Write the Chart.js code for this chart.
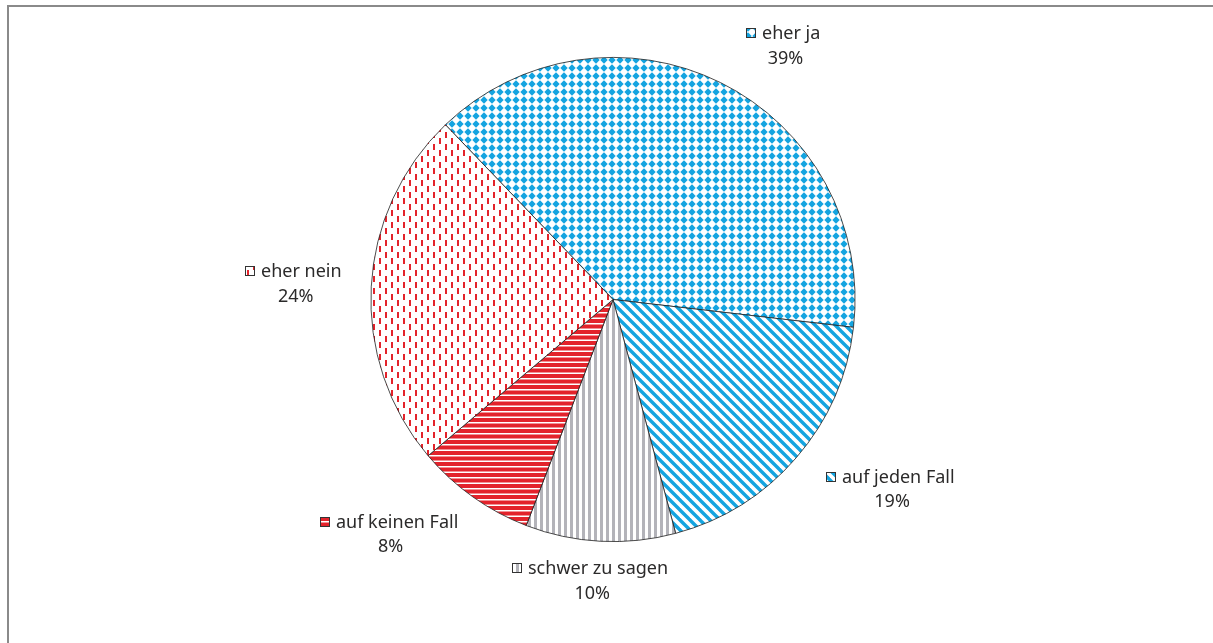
<!DOCTYPE html>
<html>
<head>
<meta charset="utf-8">
<title>Umfrage</title>
<script src="https://cdn.jsdelivr.net/npm/chart.js@4.4.1/dist/chart.umd.min.js"></script>
<style>
  html, body { margin: 0; padding: 0; background: #ffffff; }
  #wrap { width: 1213px; height: 643px; position: relative; }
</style>
</head>
<body>
<div id="wrap"><canvas id="c" width="1213" height="643"></canvas></div>
<script>
// Answer categories, in drawing order (clockwise)
const categories = ['eher ja', 'auf jeden Fall', 'schwer zu sagen', 'auf keinen Fall', 'eher nein'];
// Share of answers, percent
const shares = [39, 19, 10, 8, 24];

// Hatch fills for each slice
function makeTile(w, h, paint) {
  const c = document.createElement('canvas');
  c.width = w; c.height = h;
  const g = c.getContext('2d');
  g.fillStyle = '#ffffff';
  g.fillRect(0, 0, w, h);
  paint(g, w, h);
  return document.createElement('canvas').getContext('2d').createPattern(c, 'repeat');
}

const BLUE = '#14a4e0';
const RED = '#e3232b';
const GREY = '#b3b3b9';

const diamondFill = makeTile(8, 8, (g) => {
  g.fillStyle = BLUE;
  g.beginPath();
  g.moveTo(4, 0.3); g.lineTo(7.7, 4); g.lineTo(4, 7.7); g.lineTo(0.3, 4);
  g.closePath(); g.fill();
});

const diagonalFill = makeTile(10, 10, (g) => {
  g.strokeStyle = BLUE;
  g.lineWidth = 3.4;
  for (const k of [-10, 0, 10]) {
    g.beginPath();
    g.moveTo(k - 2, -2);
    g.lineTo(k + 12, 12);
    g.stroke();
  }
});

const verticalFill = makeTile(6, 6, (g) => {
  g.fillStyle = GREY;
  g.fillRect(0, 0, 3, 6);
});

const horizontalFill = makeTile(11, 11, (g) => {
  g.fillStyle = RED;
  g.fillRect(0, 0, 11, 4);
  g.fillRect(0, 5.5, 11, 4);
});

const dashFill = makeTile(12, 12, (g) => {
  g.fillStyle = RED;
  g.fillRect(1, 0, 2, 6);
  g.fillRect(7, 6, 2, 6);
});

const fills = [diamondFill, diagonalFill, verticalFill, horizontalFill, dashFill];

// Label block offsets (pixels) from the point at 1.25 × radius on each slice's middle angle
const labelNudge = [[36, 17], [48, -8], [-7, -21], [-49, -12], [-17, 0]];

const FONT = '18px "Noto Sans", "DejaVu Sans", sans-serif';
const TEXT = '#2b2a2a';

// Frame lines along the top and left edge of the figure
const framePlugin = {
  id: 'frame',
  beforeDraw(chart) {
    const ctx = chart.ctx;
    ctx.save();
    ctx.strokeStyle = '#8a8a8a';
    ctx.lineWidth = 2;
    ctx.beginPath();
    ctx.moveTo(8, chart.height);
    ctx.lineTo(8, 6);
    ctx.lineTo(chart.width, 6);
    ctx.stroke();
    ctx.restore();
  }
};

// Category name with a small swatch, and the percentage beneath it
const sliceLabels = {
  id: 'sliceLabels',
  afterDatasetsDraw(chart) {
    const ctx = chart.ctx;
    const meta = chart.getDatasetMeta(0);
    const data = chart.data.datasets[0].data;
    ctx.save();
    ctx.font = FONT;
    ctx.fillStyle = TEXT;
    ctx.textBaseline = 'middle';
    meta.data.forEach((arc, i) => {
      const p = arc.getProps(['x', 'y', 'startAngle', 'endAngle', 'outerRadius'], true);
      const mid = (p.startAngle + p.endAngle) / 2;
      const d = p.outerRadius * 1.25;
      const cx = p.x + Math.cos(mid) * d + labelNudge[i][0];
      const cy = p.y + Math.sin(mid) * d + labelNudge[i][1];
      const name = chart.data.labels[i];
      const box = 10, gap = 6;
      const tw = ctx.measureText(name).width;
      const total = box + gap + tw;
      const x0 = Math.round(cx - total / 2);
      const y1 = cy - 12.5;
      const by = Math.round(y1 - box / 2);
      // swatch
      ctx.fillStyle = fills[i];
      ctx.fillRect(x0, by, box, box);
      ctx.strokeStyle = '#333333';
      ctx.lineWidth = 1;
      ctx.strokeRect(x0 + 0.5, by + 0.5, box - 1, box - 1);
      ctx.fillStyle = TEXT;
      ctx.textAlign = 'left';
      ctx.fillText(name, x0 + box + gap, y1 + 1);
      ctx.textAlign = 'center';
      ctx.fillText(data[i] + '%', cx + 2, cy + 13);
    });
    ctx.restore();
  }
};

new Chart(document.getElementById('c'), {
  type: 'pie',
  data: {
    labels: categories,
    datasets: [{
      data: shares,
      backgroundColor: fills,
      borderColor: '#1e1e1e',
      borderWidth: 0.8,
      borderAlign: 'center'
    }]
  },
  options: {
    responsive: false,
    animation: false,
    rotation: -43.8,
    layout: { padding: { top: 57, bottom: 101, left: 132, right: 119 } },
    plugins: {
      legend: { display: false },
      tooltip: { enabled: false }
    }
  },
  plugins: [framePlugin, sliceLabels]
});
</script>
</body>
</html>
